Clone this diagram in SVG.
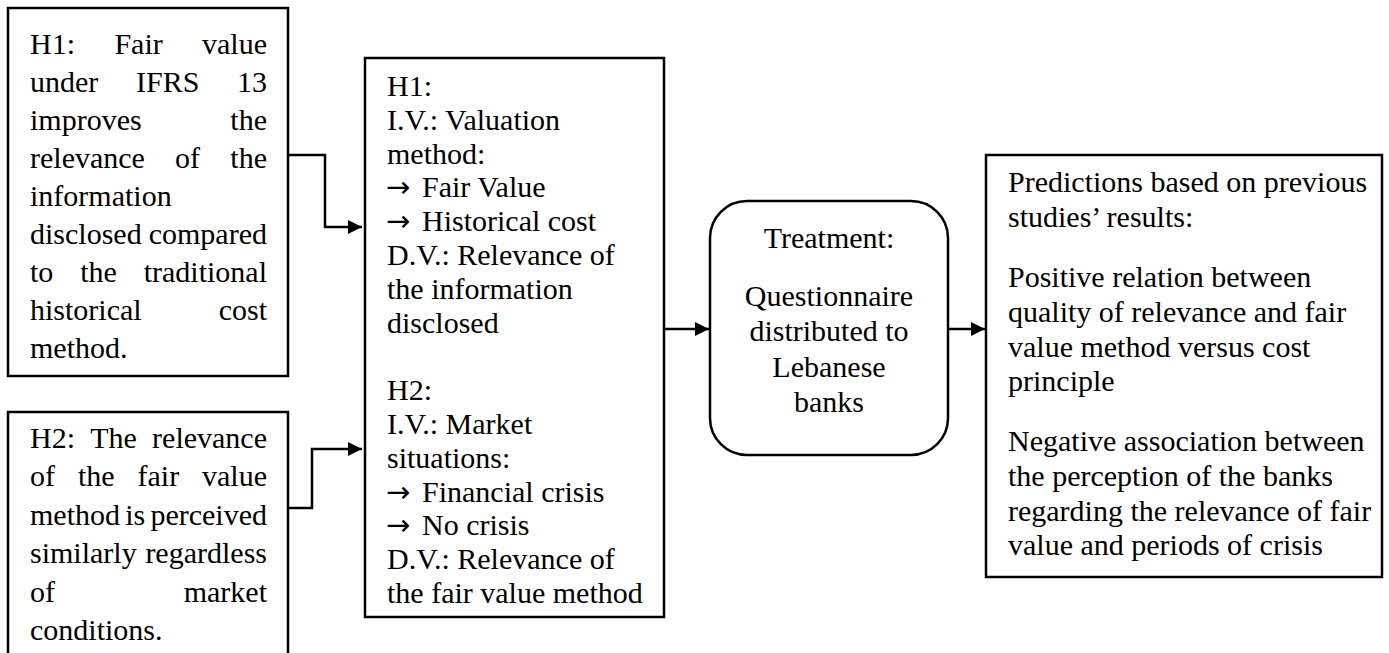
<svg xmlns="http://www.w3.org/2000/svg" width="1389" height="653" viewBox="0 0 1389 653">
<style>
.box{fill:#fff;stroke:#000;stroke-width:2.5}
.t{font-family:"Liberation Serif","Times New Roman","DejaVu Serif",serif;font-size:30px;fill:#000}
.ar{font-family:"DejaVu Sans","Liberation Sans",sans-serif;font-size:29px}
.e{text-anchor:end}
.c{text-anchor:middle}
.conn{fill:none;stroke:#000;stroke-width:2.5}
</style>
<defs>
<marker id="ah" markerUnits="userSpaceOnUse" markerWidth="15" markerHeight="15" refX="14" refY="7" orient="auto">
<path d="M0,0 L14,7 L0,14 z" fill="#000"/>
</marker>
</defs>
<rect width="1389" height="653" fill="#fff"/>

<g id="h1-box">
<rect class="box" x="8" y="8" width="280" height="368"/>
<text class="t" x="30" y="54">H1:</text><text class="t" x="114.4" y="54">Fair</text><text class="t e" x="267" y="54">value</text>
<text class="t" x="30" y="92">under</text><text class="t" x="136" y="92">IFRS</text><text class="t e" x="267" y="92">13</text>
<text class="t" x="30" y="130">improves</text><text class="t e" x="267" y="130">the</text>
<text class="t" x="30" y="168">relevance</text><text class="t" x="175.1" y="168">of</text><text class="t e" x="267" y="168">the</text>
<text class="t" x="30" y="206">information</text>
<text class="t" x="30" y="244">disclosed</text><text class="t e" x="267" y="244">compared</text>
<text class="t" x="30" y="282">to</text><text class="t" x="80.2" y="282">the</text><text class="t e" x="267" y="282">traditional</text>
<text class="t" x="30" y="320">historical</text><text class="t e" x="267" y="320">cost</text>
<text class="t" x="30" y="358">method.</text>
</g>

<g id="h2-box">
<rect class="box" x="8" y="412" width="280" height="246"/>
<text class="t" x="30" y="448">H2:</text><text class="t" x="90.2" y="448">The</text><text class="t e" x="267" y="448">relevance</text>
<text class="t" x="30" y="486.4">of</text><text class="t" x="77.9" y="486.4">the</text><text class="t" x="137.5" y="486.4">fair</text><text class="t e" x="267" y="486.4">value</text>
<text class="t" x="30" y="524.8">method</text><text class="t" x="125.2" y="524.8">is</text><text class="t e" x="267" y="524.8">perceived</text>
<text class="t" x="30" y="563.2">similarly</text><text class="t e" x="267" y="563.2">regardless</text>
<text class="t" x="30" y="601.6">of</text><text class="t e" x="267" y="601.6">market</text>
<text class="t" x="30" y="640">conditions.</text>
</g>

<g id="variables-box">
<rect class="box" x="365" y="58" width="299" height="559"/>
<text class="t" x="387" y="96">H1:</text>
<text class="t" x="387" y="129.8">I.V.: Valuation</text>
<text class="t" x="387" y="163.6">method:</text>
<text class="t" x="386" y="197.4"><tspan class="ar">→</tspan><tspan x="422">Fair Value</tspan></text>
<text class="t" x="386" y="231.2"><tspan class="ar">→</tspan><tspan x="422">Historical cost</tspan></text>
<text class="t" x="387" y="265">D.V.: Relevance of</text>
<text class="t" x="387" y="298.8">the information</text>
<text class="t" x="387" y="332.6">disclosed</text>
<text class="t" x="387" y="400.2">H2:</text>
<text class="t" x="387" y="434">I.V.: Market</text>
<text class="t" x="387" y="467.8">situations:</text>
<text class="t" x="386" y="501.6"><tspan class="ar">→</tspan><tspan x="422">Financial crisis</tspan></text>
<text class="t" x="386" y="535.4"><tspan class="ar">→</tspan><tspan x="422">No crisis</tspan></text>
<text class="t" x="387" y="569.2">D.V.: Relevance of</text>
<text class="t" x="387" y="603">the fair value method</text>
</g>

<g id="treatment-box">
<rect class="box" x="710" y="201" width="238" height="254" rx="37" ry="37"/>
<text class="t c" x="829" y="248">Treatment:</text>
<text class="t c" x="829" y="306">Questionnaire</text>
<text class="t c" x="829" y="341">distributed to</text>
<text class="t c" x="829" y="376.5">Lebanese</text>
<text class="t c" x="829" y="412">banks</text>
</g>

<g id="predictions-box">
<rect class="box" x="986" y="155" width="396" height="422"/>
<text class="t" x="1008" y="192">Predictions based on previous</text>
<text class="t" x="1008" y="227">studies’ results:</text>
<text class="t" x="1008" y="287">Positive relation between</text>
<text class="t" x="1008" y="322">quality of relevance and fair</text>
<text class="t" x="1008" y="356.5">value method versus cost</text>
<text class="t" x="1008" y="391">principle</text>
<text class="t" x="1008" y="451">Negative association between</text>
<text class="t" x="1008" y="486">the perception of the banks</text>
<text class="t" x="1008" y="520.5">regarding the relevance of fair</text>
<text class="t" x="1008" y="555">value and periods of crisis</text>
</g>

<g id="connectors">
<path class="conn" d="M288,155 H325 V227 H362" marker-end="url(#ah)"/>
<path class="conn" d="M288,508 H312 V449 H362" marker-end="url(#ah)"/>
<path class="conn" d="M664,329 H709" marker-end="url(#ah)"/>
<path class="conn" d="M949,329 H985" marker-end="url(#ah)"/>
</g>
</svg>
